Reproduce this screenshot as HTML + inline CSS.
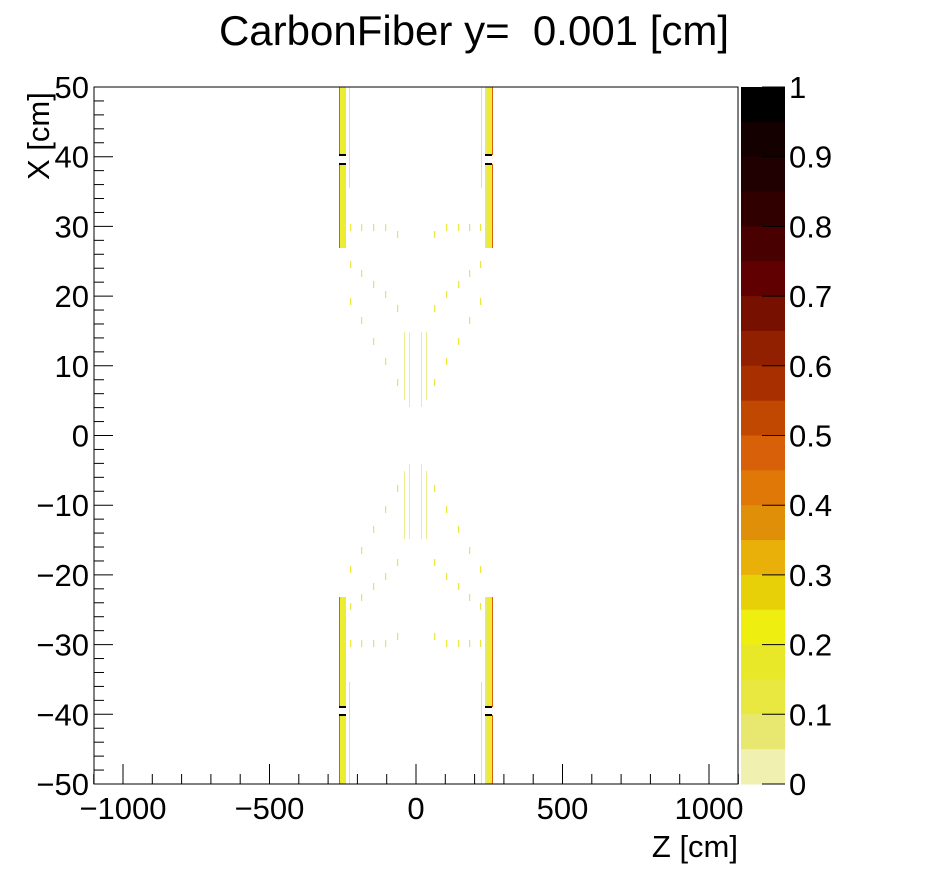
<!DOCTYPE html>
<html><head><meta charset="utf-8"><style>
body{margin:0;background:#fff;}
svg{display:block;font-family:"Liberation Sans",sans-serif;}
</style></head><body>
<svg id="s" width="946" height="872" xmlns="http://www.w3.org/2000/svg">
<rect width="946" height="872" fill="#fff"/>
<text x="474" y="45" font-size="42" text-anchor="middle">CarbonFiber y=&#160; 0.001 [cm]</text>
<g id="data"></g>
<rect x="94" y="87" width="644" height="697" fill="none" stroke="#000" stroke-width="1"/>
<g id="ax" stroke="#000" stroke-width="1"></g>
<g id="lab" font-size="31"></g>
<text x="738" y="857" font-size="31" text-anchor="end">Z [cm]</text>
<text transform="translate(49,180) rotate(-90)" font-size="31" text-anchor="start">X [cm]</text>
<g id="cb"></g>
</svg>
<script>
const NS="http://www.w3.org/2000/svg";
function el(p,t,a,txt){const e=document.createElementNS(NS,t);for(const k in a)e.setAttribute(k,a[k]);if(txt!==undefined)e.textContent=txt;p.appendChild(e);return e;}
const d=document.getElementById('data'),ax=document.getElementById('ax'),lab=document.getElementById('lab'),cb=document.getElementById('cb');
function strip(y1,y2){
 el(d,'rect',{x:339,y:y1,width:7,height:y2-y1,fill:'#ecec30'});
 el(d,'rect',{x:339,y:y1,width:1,height:y2-y1,fill:'#d86008'});
 el(d,'rect',{x:485,y:y1,width:8,height:y2-y1,fill:'#ecec30'});
 el(d,'rect',{x:485,y:y1,width:2,height:y2-y1,fill:'#e8e870'});
 el(d,'rect',{x:492,y:y1,width:1,height:y2-y1,fill:'#d86008'});
}
strip(87,155);strip(164,248);strip(597,707);strip(715,784);
[[339,154],[339,163],[485,154],[485,163],[339,706],[339,714],[485,706],[485,714]].forEach(p=>el(d,'rect',{x:p[0],y:p[1],width:7,height:2,fill:'#000'}));
el(d,'rect',{x:349,y:87,width:1,height:101,fill:'#e8e870'});
el(d,'rect',{x:481,y:87,width:1,height:101,fill:'#e8e870'});
el(d,'rect',{x:349,y:682,width:1,height:102,fill:'#e8e870'});
el(d,'rect',{x:481,y:682,width:1,height:102,fill:'#e8e870'});
const dashes=[[224,[350,361,373,385,446,458,469,480]],[231,[397,434]],[261,[350,480]],[270,[361,469]],[281,[373,458]],[291,[385,446]],[298,[350,480]],[305,[397,434]],[317,[361,469]],[338,[373,458]],[358,[385,446]],[379,[397,434]]];
dashes.forEach(r=>r[1].forEach(x=>{el(d,'rect',{x:x,y:r[0],width:1.2,height:7,fill:'#e8e840'});el(d,'rect',{x:x,y:871-r[0]-7,width:1.2,height:7,fill:'#e8e840'});}));
[[404,332,400],[409,332,407],[421,332,407],[426,332,400]].forEach(v=>{el(d,'rect',{x:v[0],y:v[1],width:1,height:v[2]-v[1],fill:'#ecec90'});el(d,'rect',{x:v[0],y:871-v[2],width:1,height:v[2]-v[1],fill:'#ecec90'});});
const xs=v=>416+v*0.293;
for(let v=-1100;v<=1100;v+=100){const x=xs(v);const maj=v%500===0;el(ax,'line',{x1:x,x2:x,y1:784,y2:maj?764:774});}
[-1000,-500,0,500,1000].forEach(v=>el(lab,'text',{x:xs(v),y:819,'text-anchor':'middle'},(v<0?'\u2212'+(-v):''+v)));
const ys=v=>435.5-v*6.97;
for(let v=-50;v<=50;v+=2){const y=ys(v);const maj=v%10===0;el(ax,'line',{x1:94,x2:maj?113:104,y1:y,y2:y});}
for(let v=-50;v<=50;v+=10)el(lab,'text',{x:89,y:ys(v)+11,'text-anchor':'end'},(v<0?'\u2212'+(-v):''+v));
const cols=['#000000','#150000','#200000','#300000','#480000','#600000','#781000','#902000','#a83000','#c04800','#d86008','#e07808','#e09008','#e8b008','#e8d008','#eeee10','#e8e828','#e8e840','#e8e870','#f0f0b0'];
cols.forEach((c,i)=>el(cb,'rect',{x:741,y:87+i*34.85,width:44,height:35.35,fill:c}));
for(let i=0;i<=10;i++){const y=784-i*69.7;el(cb,'line',{x1:762,x2:785,y1:y,y2:y,stroke:'#000'});
 el(cb,'text',{x:789,y:y+11,'font-size':31},i===0?'0':i===10?'1':'0.'+i);}
</script>
</body></html>
